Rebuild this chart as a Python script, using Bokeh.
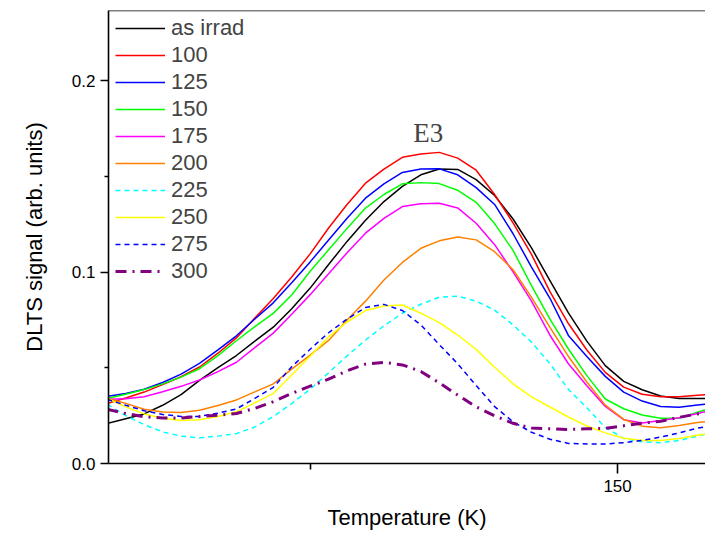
from bokeh.plotting import figure
from bokeh.models import FixedTicker, NumeralTickFormatter, Legend, LegendItem, Label, Span
from bokeh.embed import file_html
from bokeh.resources import INLINE

# Temperature grid (K)
T = [67, 70, 73, 76, 79, 82, 85, 88, 91, 94, 97, 100, 103, 106, 109, 112, 115,
     118, 121, 124, 127, 130, 133, 136, 139, 142, 145, 148, 151, 154, 157, 160, 163, 166]

as_irrad = [0.0209, 0.0234, 0.0259, 0.0304, 0.0360, 0.0434, 0.0501, 0.0564, 0.0639, 0.0712,
            0.0808, 0.0916, 0.1039, 0.1160, 0.1270, 0.1368, 0.1447, 0.1508, 0.1538, 0.1536,
            0.1483, 0.1400, 0.1277, 0.1126, 0.0955, 0.0787, 0.0639, 0.0511, 0.0429, 0.0385,
            0.0353, 0.0340, 0.0340, 0.0340]
s100 = [0.0314, 0.0342, 0.0373, 0.0412, 0.0453, 0.0504, 0.0576, 0.0656, 0.0760, 0.0862,
        0.0974, 0.1095, 0.1230, 0.1353, 0.1464, 0.1538, 0.1599, 0.1616, 0.1625, 0.1595,
        0.1532, 0.1405, 0.1257, 0.1092, 0.0898, 0.0731, 0.0593, 0.0476, 0.0399, 0.0362,
        0.0349, 0.0348, 0.0357, 0.0361]
s125 = [0.0351, 0.0366, 0.0388, 0.0423, 0.0467, 0.0523, 0.0593, 0.0667, 0.0755, 0.0839,
        0.0944, 0.1053, 0.1167, 0.1281, 0.1386, 0.1460, 0.1520, 0.1538, 0.1539, 0.1508,
        0.1441, 0.1353, 0.1200, 0.1026, 0.0863, 0.0669, 0.0559, 0.0455, 0.0373, 0.0326,
        0.0298, 0.0294, 0.0306, 0.0314]
s150 = [0.0340, 0.0362, 0.0386, 0.0416, 0.0451, 0.0495, 0.0563, 0.0641, 0.0715, 0.0784,
        0.0880, 0.1004, 0.1116, 0.1228, 0.1334, 0.1405, 0.1461, 0.1467, 0.1462, 0.1427,
        0.1364, 0.1253, 0.1113, 0.0929, 0.0754, 0.0598, 0.0459, 0.0337, 0.0286, 0.0253,
        0.0236, 0.0236, 0.0268, 0.0298]
s175 = [0.0335, 0.0338, 0.0349, 0.0375, 0.0403, 0.0436, 0.0480, 0.0529, 0.0605, 0.0681,
        0.0780, 0.0882, 0.0991, 0.1101, 0.1203, 0.1280, 0.1342, 0.1357, 0.1359, 0.1335,
        0.1255, 0.1143, 0.1001, 0.0848, 0.0670, 0.0521, 0.0406, 0.0298, 0.0229, 0.0211,
        0.0225, 0.0239, 0.0261, 0.0283]
s200 = [0.0340, 0.0314, 0.0283, 0.0269, 0.0266, 0.0278, 0.0303, 0.0332, 0.0374, 0.0416,
        0.0493, 0.0566, 0.0643, 0.0749, 0.0848, 0.0958, 0.1050, 0.1124, 0.1163, 0.1183,
        0.1168, 0.1106, 0.1012, 0.0868, 0.0711, 0.0559, 0.0426, 0.0305, 0.0230, 0.0195,
        0.0187, 0.0198, 0.0214, 0.0225]
s225 = [0.0309, 0.0250, 0.0203, 0.0165, 0.0143, 0.0134, 0.0143, 0.0156, 0.0191, 0.0245,
        0.0313, 0.0388, 0.0474, 0.0562, 0.0645, 0.0719, 0.0785, 0.0832, 0.0869, 0.0874,
        0.0848, 0.0801, 0.0724, 0.0634, 0.0521, 0.0387, 0.0291, 0.0188, 0.0131, 0.0113,
        0.0109, 0.0120, 0.0143, 0.0168]
s250 = [0.0340, 0.0296, 0.0259, 0.0236, 0.0225, 0.0229, 0.0245, 0.0270, 0.0317, 0.0366,
        0.0462, 0.0560, 0.0662, 0.0739, 0.0799, 0.0823, 0.0828, 0.0785, 0.0736, 0.0671,
        0.0596, 0.0503, 0.0416, 0.0348, 0.0295, 0.0243, 0.0196, 0.0160, 0.0132, 0.0120,
        0.0120, 0.0131, 0.0147, 0.0162]
s275 = [0.0335, 0.0304, 0.0276, 0.0256, 0.0246, 0.0246, 0.0263, 0.0285, 0.0340, 0.0398,
        0.0505, 0.0597, 0.0683, 0.0754, 0.0815, 0.0831, 0.0799, 0.0724, 0.0621, 0.0521,
        0.0407, 0.0297, 0.0218, 0.0163, 0.0127, 0.0105, 0.0102, 0.0102, 0.0109, 0.0121,
        0.0138, 0.0160, 0.0185, 0.0199]
s300 = [0.0283, 0.0261, 0.0244, 0.0238, 0.0238, 0.0245, 0.0252, 0.0261, 0.0288, 0.0323,
        0.0366, 0.0404, 0.0441, 0.0484, 0.0519, 0.0528, 0.0515, 0.0481, 0.0421, 0.0357,
        0.0296, 0.0249, 0.0210, 0.0186, 0.0181, 0.0178, 0.0181, 0.0183, 0.0197, 0.0211,
        0.0220, 0.0241, 0.0259, 0.0272]

labels = ["as irrad", "100", "125", "150", "175", "200", "225", "250", "275", "300"]
series = [as_irrad, s100, s125, s150, s175, s200, s225, s250, s275, s300]
colors = ["#000000", "#FF0000", "#0000FF", "#00FF00", "#FF00FF", "#FF8000",
          "#00FFFF", "#FFFF00", "#0000FF", "#800080"]
dashes = ["solid", "solid", "solid", "solid", "solid", "solid",
          "5 4", "solid", "5 4", "11 6 2 6"]
widths = [1.5, 1.5, 1.5, 1.5, 1.5, 1.5, 1.5, 1.5, 1.5, 3]

x_ticks = [50, 150, 250]
x_minor = [100, 200]
y_ticks = [0.0, 0.1, 0.2]
y_minor = [0.05, 0.15]

FONT = "Liberation Sans"
Y_TOP = 0.2366

p = figure(width=705, height=534, output_backend="svg", toolbar_location=None,
           x_range=(67.2, 164.3), y_range=(0.0, Y_TOP),
           min_border_left=108, min_border_right=0, min_border_top=10, min_border_bottom=71)
p.grid.visible = False
p.outline_line_color = None
p.background_fill_color = "white"

renderers = []
for lab, ys, c, d, w in zip(labels, series, colors, dashes, widths):
    r = p.line(T, ys, line_color=c, line_dash=d, line_width=w)
    renderers.append((lab, r))

# top border of the frame
p.add_layout(Span(location=Y_TOP, dimension="width", line_color="black", line_width=1.6))

xa = p.below[0]
ya = p.left[0]
xa.ticker = FixedTicker(ticks=x_ticks, minor_ticks=x_minor)
xa.axis_label = "Temperature (K)"
ya.ticker = FixedTicker(ticks=y_ticks, minor_ticks=y_minor)
ya.formatter = NumeralTickFormatter(format="0.0")
ya.axis_label = "DLTS signal (arb. units)"

for ax in (xa, ya):
    ax.axis_line_width = 1.6
    ax.major_tick_line_width = 1.6
    ax.minor_tick_line_width = 1.6
    ax.major_tick_in = 0
    ax.minor_tick_in = 0
    ax.major_label_text_font = FONT
    ax.major_label_text_font_size = "17px"
    ax.major_label_text_color = "black"
    ax.axis_label_text_font = FONT
    ax.axis_label_text_font_size = "22px"
    ax.axis_label_text_font_style = "normal"
    ax.axis_label_text_color = "black"

xa.major_tick_out = 10
xa.minor_tick_out = 6
xa.major_label_standoff = 6
xa.axis_label_standoff = 10
ya.major_tick_out = 8
ya.minor_tick_out = 4
ya.major_label_standoff = 5
ya.axis_label_standoff = 22

legend = Legend(items=[LegendItem(label=l, renderers=[r]) for l, r in renderers],
                location=(7, 179), border_line_color=None, background_fill_alpha=0,
                padding=5, margin=0, spacing=1, glyph_width=50, glyph_height=24,
                label_height=24, label_standoff=6,
                label_text_font=FONT, label_text_font_size="22px")
p.add_layout(legend)

p.add_layout(Label(x=119.2, y=0.1727, text="E3", text_font="Liberation Serif",
                   text_font_size="27px", text_align="center", text_baseline="alphabetic"))

open("out.html", "w").write(file_html(p, INLINE))
